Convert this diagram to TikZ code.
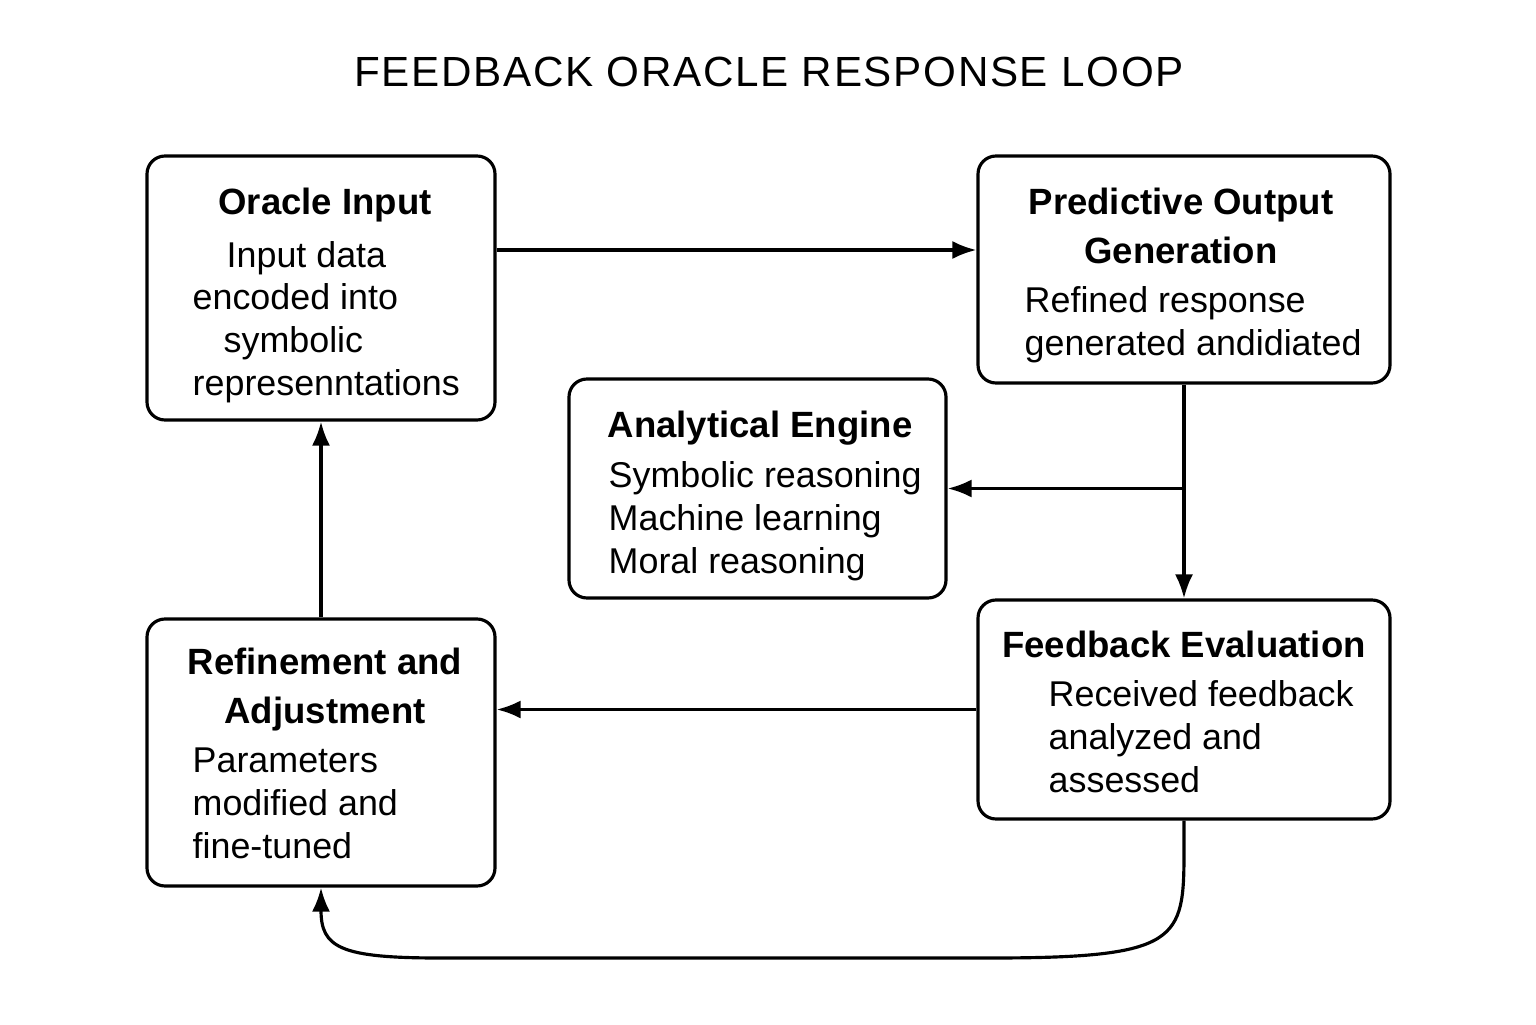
\documentclass[tikz,border=0pt]{standalone}
\usepackage{fontspec}
\setmainfont{Liberation Sans}
\usepackage{tikz}
\usetikzlibrary{arrows.meta}

\begin{document}
\begin{tikzpicture}[auto]

%
% Styles
%
\tikzstyle{stage}    = [draw,rounded corners=0.18cm,line width=0.9pt,inner sep=0pt]
\tikzstyle{headline} = [inner sep=0pt,align=center,font=\bfseries\fontsize{10.4}{13.9}\selectfont]
\tikzstyle{bodytext} = [inner sep=0pt,align=left,anchor=base west,font=\fontsize{10.2}{12.1}\selectfont]
\tikzstyle{edge}     = [->,>={Latex[length=2.4mm,width=1.8mm]},line width=0.9pt]

\useasboundingbox (0,0) rectangle (15.36,10.24);

\node[inner sep=0pt,anchor=base] (title) at (7.69,9.37)
  {\addfontfeatures{LetterSpace=4}\fontsize{12}{14}\selectfont FEEDBACK ORACLE RESPONSE LOOP};

% boxes
\node[stage,minimum width=3.48cm,minimum height=2.64cm] (oin) at (3.21,7.36) {};
\node[stage,minimum width=4.12cm,minimum height=2.27cm] (pog) at (11.84,7.545) {};
\node[stage,minimum width=3.77cm,minimum height=2.19cm] (ae)  at (7.575,5.355) {};
\node[stage,minimum width=4.12cm,minimum height=2.19cm] (fbe) at (11.84,3.145) {};
\node[stage,minimum width=3.48cm,minimum height=2.67cm] (ra)  at (3.21,2.715) {};

% texts (base = last line)
\node[headline,anchor=base] (oint) at (3.25,8.09) {Oracle Input};
\node[bodytext] (oinb) at (1.92,6.29)
  {\hspace{0.34cm}Input data\\encoded into\\\hspace{0.31cm}symbolic\\represenntations};

\node[headline,anchor=base] (pogt) at (11.81,7.61) {Predictive Output\\Generation};
\node[bodytext] (pogb) at (10.24,6.69) {Refined response\\generated andidiated};

\node[headline,anchor=base west] (aet) at (6.07,5.87) {Analytical Engine};
\node[bodytext] (aeb) at (6.08,4.51) {Symbolic reasoning\\Machine learning\\Moral reasoning};

\node[headline,anchor=base] (fbet) at (11.84,3.67) {Feedback Evaluation};
\node[bodytext] (fbeb) at (10.48,2.32) {Received feedback\\analyzed and\\assessed};

\node[headline,anchor=base] (rat) at (3.25,3.01) {Refinement and\\Adjustment};
\node[bodytext] (rab) at (1.92,1.66) {Parameters\\modified and\\fine-tuned};

% connectors
\draw[edge] ([yshift=3.8mm]oin.east) -- ([yshift=3.8mm]oin.east -| pog.west);
\draw[edge] (pog.south) -- (fbe.north);
\draw[edge] (pog.south |- ae.east) -- (ae.east);
\draw[edge] (fbe.west) -- (fbe.west -| ra.east);
\draw[edge] (ra.north) -- (oin.south);
\draw[edge] (fbe.south) -- ++(0,-0.3)
  .. controls +(0,-0.9) and +(1.9,0) .. (9.9,0.66)
  -- (4.4,0.66)
  .. controls +(-1.0,0) and +(0,-0.6) .. (ra.south);

\end{tikzpicture}
\end{document}
